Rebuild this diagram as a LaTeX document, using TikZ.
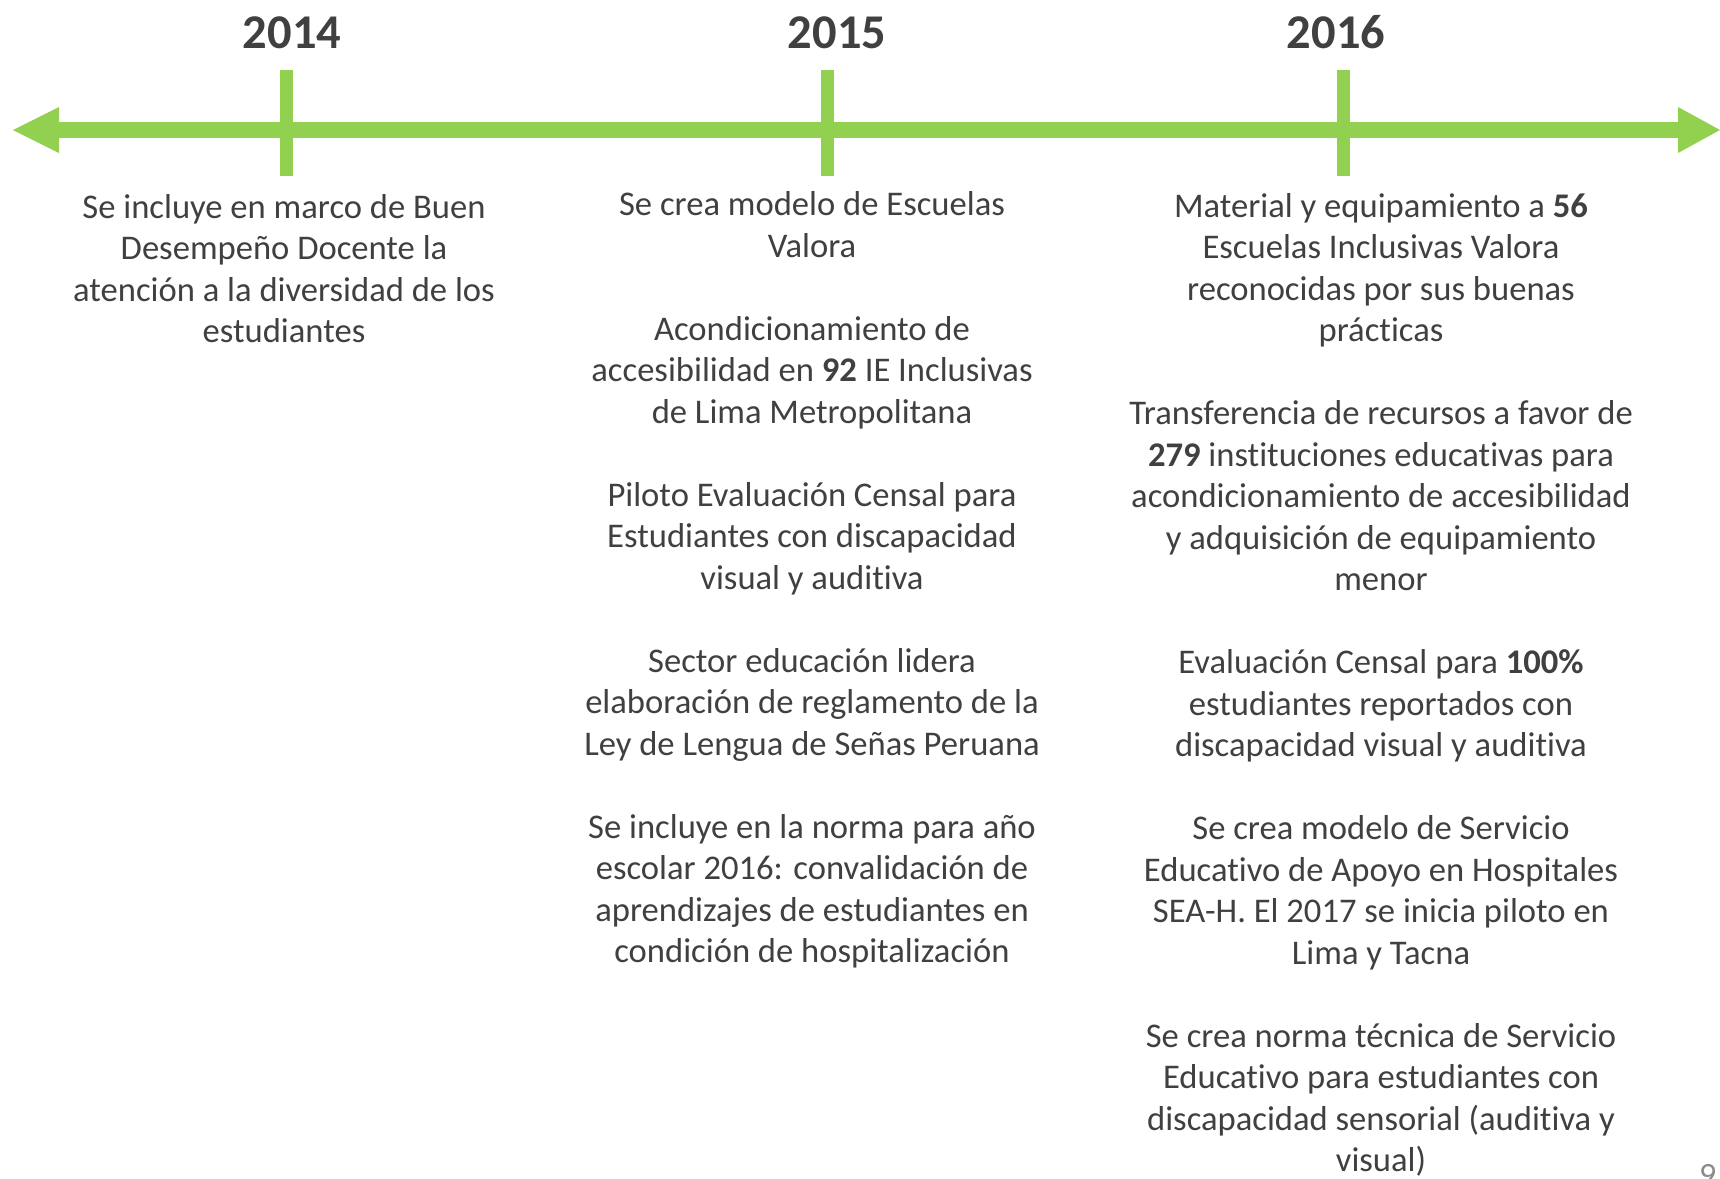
\documentclass[tikz,border=0pt]{standalone}
\usepackage{fontspec}
\setmainfont[Ligatures=NoCommon]{Carlito}
\definecolor{tlgreen}{HTML}{92D050}
\definecolor{txtgray}{HTML}{404040}
\definecolor{pagegray}{HTML}{8C8C8C}
\newlength{\lpitch}
\setlength{\lpitch}{41.5pt}
\newcommand{\colbox}[1]{\parbox[t]{640pt}{\centering\fontsize{34.6}{\lpitch}\selectfont #1}}
\newcommand{\gapline}{\par\vskip\lpitch}
\tikzset{
  yearlabel/.style={anchor=base, inner sep=0pt, text=txtgray, font=\fontsize{48.5}{58}\selectfont\bfseries},
  coltext/.style={anchor=base, inner sep=0pt, text=txtgray},
  tickbar/.style={fill=tlgreen, draw=none},
}
\begin{document}
\begin{tikzpicture}[x=1pt,y=-1pt]
\useasboundingbox (0,0) rectangle (1720,1178);
\clip (0,0) rectangle (1720,1178);
\fill[white] (0,0) rectangle (1720,1178);
% timeline
\fill[tlgreen] (50,122) rectangle (1685,138);
\fill[tlgreen] (13,130) -- (59,107) -- (59,153) -- cycle;
\fill[tlgreen] (1720,130) -- (1678,107) -- (1678,153) -- cycle;
% ticks
\fill[tickbar] (280,70) rectangle (293,176);
\fill[tickbar] (821,70) rectangle (834,176);
\fill[tickbar] (1337,70) rectangle (1350,176);
% years
\node[yearlabel] (y2014) at (292,48) {2014};
\node[yearlabel] (y2015) at (837,48) {2015};
\node[yearlabel] (y2016) at (1336,48) {2016};
% columns
\node[coltext] (c2014) at (284,218) {\colbox{Se incluye en marco de Buen\\Desempeño Docente la\\atención a la diversidad de los\\estudiantes}};
\node[coltext] (c2015) at (812,215.5) {\colbox{Se crea modelo de Escuelas\\Valora\gapline
Acondicionamiento de\\accesibilidad en \textbf{92} IE Inclusivas\\de Lima Metropolitana\gapline
Piloto Evaluación Censal para\\Estudiantes con discapacidad\\visual y auditiva\gapline
Sector educación lidera\\elaboración de reglamento de la\\Ley de Lengua de Señas Peruana\gapline
Se incluye en la norma para año\\escolar 2016: convalidación de\\aprendizajes de estudiantes en\\condición de hospitalización}};
\node[coltext] (c2016) at (1381,217) {\colbox{Material y equipamiento a \textbf{56}\\Escuelas Inclusivas Valora\\reconocidas por sus buenas\\prácticas\gapline
Transferencia de recursos a favor de\\\textbf{279} instituciones educativas para\\acondicionamiento de accesibilidad\\y adquisición de equipamiento\\menor\gapline
Evaluación Censal para \textbf{100\%}\\estudiantes reportados con\\discapacidad visual y auditiva\gapline
Se crea modelo de Servicio\\Educativo de Apoyo en Hospitales\\SEA-H. El 2017 se inicia piloto en\\Lima y Tacna\gapline
Se crea norma técnica de Servicio\\Educativo para estudiantes con\\discapacidad sensorial (auditiva y\\visual)}};
% page number
\node[anchor=base west, inner sep=0pt, text=pagegray, font=\fontsize{34}{40}\selectfont] (pnum) at (1699,1186) {9};
\end{tikzpicture}
\end{document}
